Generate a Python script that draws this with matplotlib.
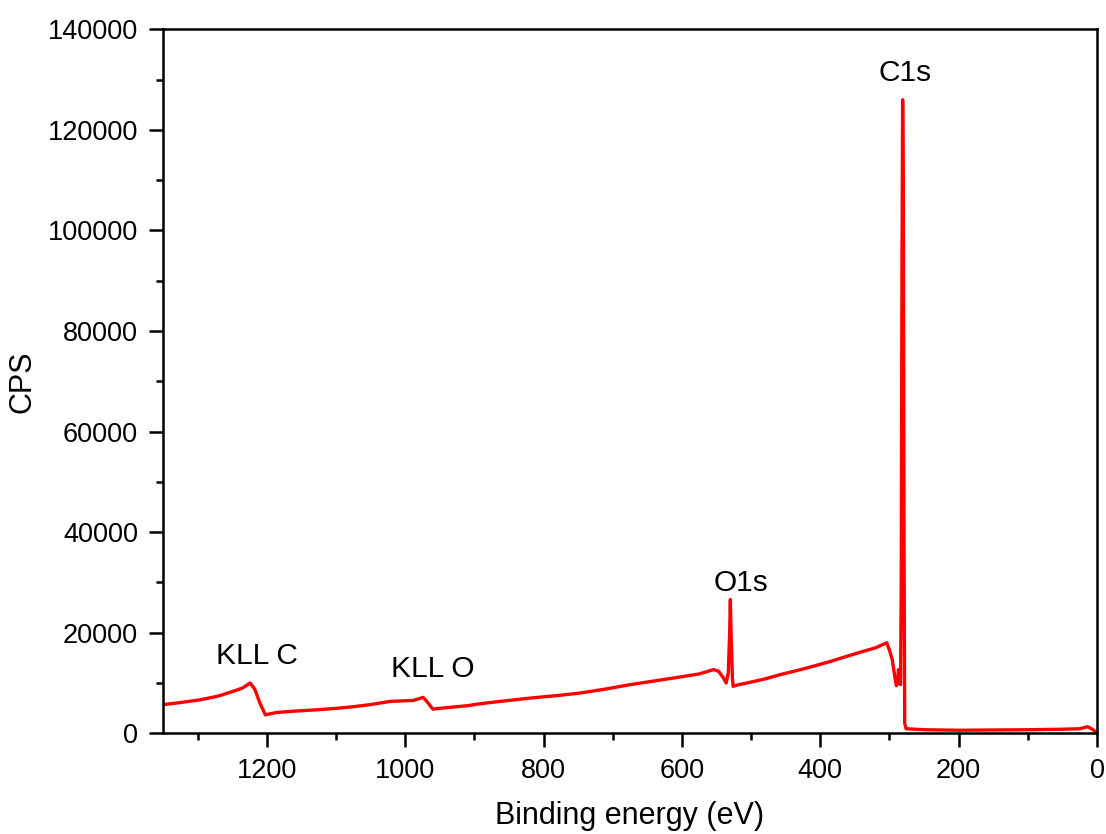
import matplotlib
matplotlib.use('Agg')
import numpy as np
import matplotlib.pyplot as plt
from matplotlib.ticker import MultipleLocator

# XPS survey spectrum
energy = [1350, 1325, 1296, 1270, 1249, 1235, 1224, 1217, 1210, 1202, 1186,
          1160, 1128, 1100, 1080, 1050, 1022, 988, 974, 968, 960, 940,
          911, 892, 863, 819, 780, 747, 710, 675, 640, 602, 575, 554, 547,
          540, 536, 533, 531, 530, 529, 527, 526, 520, 506, 480, 458, 430,
          410, 385, 361, 337, 320, 304, 300, 296, 292, 290, 288, 287, 285,
          284, 283, 282, 281, 280, 279, 278, 276, 250, 200, 150, 100,
          50, 25, 14, 8, 3, 0]
cps = [5700, 6100, 6660, 7400, 8330, 9000, 10000, 8660, 6000, 3660, 4130,
       4400, 4660, 4950, 5200, 5700, 6330, 6530, 7130, 6200, 4800, 5100,
       5460, 5860, 6330, 7000, 7500, 8000, 8800, 9660, 10400, 11200, 11800, 12660, 12330,
       11000, 10000, 12000, 20000, 26600, 20000, 11000, 9330, 9600, 10000, 10800, 11660, 12600,
       13330, 14300, 15330, 16330, 17000, 18000, 16500, 14660, 11000, 9460, 10500, 12660, 9900,
       9660, 30000, 90000, 126000, 110000, 40000, 2000, 900, 700, 600, 650, 700,
       800, 900, 1300, 900, 400, 100]

peak_names = ['KLL C', 'KLL O', 'O1s', 'C1s']
peak_x = [1214, 960, 514, 278]
peak_y = [15300, 12700, 29900, 131300]

plt.rcParams['font.family'] = ['Liberation Sans', 'DejaVu Sans']

fig = plt.figure(figsize=(11.06, 8.34), dpi=100)
ax = fig.add_axes([0.1474, 0.1208, 0.8445, 0.8440])

ax.plot(energy, cps, color='#ff0000', linewidth=2.4)

for name, xx, yy in zip(peak_names, peak_x, peak_y):
    ax.text(xx, yy, name, fontsize=21.5, ha='center', va='center')

ax.set_xlim(1350, 0)
ax.set_ylim(0, 140000)
ax.xaxis.set_major_locator(MultipleLocator(200))
ax.xaxis.set_minor_locator(MultipleLocator(100))
ax.yaxis.set_major_locator(MultipleLocator(20000))
ax.yaxis.set_minor_locator(MultipleLocator(10000))
ax.tick_params(which='major', direction='out', length=10, width=1.8, labelsize=19.5)
ax.tick_params(axis='x', which='major', pad=8)
ax.tick_params(axis='y', which='major', pad=8)
ax.tick_params(which='minor', direction='out', length=5, width=1.8)
for sp in ax.spines.values():
    sp.set_linewidth(1.8)

ax.set_xlabel('Binding energy (eV)', fontsize=22, labelpad=12)
ax.set_ylabel('CPS', fontsize=22, labelpad=7)

fig.savefig('out.png', dpi=100)
